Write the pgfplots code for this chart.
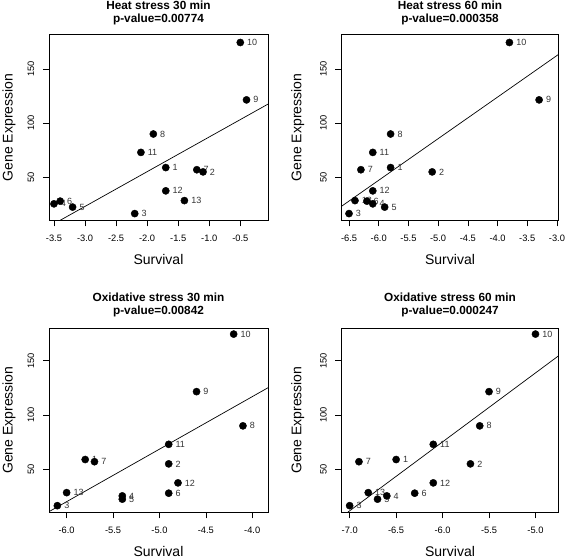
\documentclass[border=0pt]{standalone}
\usepackage{pgfplots}
\pgfplotsset{compat=1.18}
\usepackage{pgfplotstable}
\usepackage{fontspec}
\setmainfont{Liberation Sans}

\pgfplotstableread{
lab y     h30  h60  o30  o60
1   59    -1.7 -5.8 -5.8 -6.5
2   55    -1.1 -5.1 -4.9 -5.7
3   16.5  -2.2 -6.5 -6.1 -7.0
4   25.5  -3.5 -6.1 -5.4 -6.6
5   22.5  -3.2 -5.9 -5.4 -6.7
6   28    -3.4 -6.2 -4.9 -6.3
7   57    -1.2 -6.3 -5.7 -6.9
8   90    -1.9 -5.8 -4.1 -5.6
9   121.5 -0.4 -3.3 -4.6 -5.5
10  174.5 -0.5 -3.8 -4.2 -5.0
11  73    -2.1 -6.1 -4.9 -6.1
12  37.5  -1.7 -6.1 -4.8 -6.1
13  28.5  -1.4 -6.4 -6.0 -6.8
}\data

\pgfplotsset{
  panel/.style={
    scale only axis, anchor=south west,
    axis line style={line width=0.8pt},
    tick align=outside, major tick length=6pt,
    tick style={black, line width=0.6pt},
    xtick pos=bottom, ytick pos=left,
    ytick={50,100,150},
    yticklabels={50,100,150},
    yticklabel style={rotate=90, anchor=south, inner sep=0pt, font=\fontsize{9.3}{10}\selectfont},
    xticklabel style={anchor=north, inner sep=0pt, font=\fontsize{9.3}{10}\selectfont},
    yticklabel shift=8.5pt,
    xticklabel shift=8.5pt,
    xlabel={Survival}, ylabel={Gene Expression},
    label style={font=\fontsize{14}{16}\selectfont},
    xlabel style={at={(axis description cs:0.5,-0.212)}, anchor=center},
    title style={font=\fontsize{11.8}{13.6}\selectfont\bfseries, align=center, anchor=center},
    lbl/.style={draw=none, mark=none, nodes near coords, point meta=explicit symbolic,
      every node near coord/.style={anchor=west, inner sep=0pt, xshift=6.7pt, text=black!80, font=\fontsize{9}{10}\selectfont}},
    pts/.style={only marks, mark=*, mark size=3.6pt, black, mark options={draw=black, fill=black}},
    fit/.style={black, line width=0.7pt, mark=none},
  }
}

\begin{document}
\begin{tikzpicture}[x=1pt,y=1pt]
\useasboundingbox (0,0) rectangle (567,558);

\begin{axis}[panel, at={(49pt,337.7pt)}, width=219pt, height=185.6pt,
  xmin=-3.58, xmax=-0.054, ymin=10.3, ymax=181.7,
  xtick={-3.5,-3,-2.5,-2,-1.5,-1,-0.5},
  xticklabels={-3.5,-3.0,-2.5,-2.0,-1.5,-1.0,-0.5},
  ylabel style={at={(axis description cs:-0.183,0.5)}, anchor=center},
  title style={at={(axis description cs:0.5,1.084)}},
  title={Heat stress 30 min\\p-value=0.00774}]
\addplot[lbl] table[x=h30, y=y, meta=lab] {\data};
\addplot[pts] table[x=h30, y=y] {\data};
\addplot[fit] coordinates {(-3.40,10.3) (-0.054,117.6)};
\end{axis}

\begin{axis}[panel, at={(341.3pt,337.7pt)}, width=217.4pt, height=185.6pt,
  xmin=-6.63, xmax=-2.97, ymin=10.3, ymax=181.7,
  xtick={-6.5,-6,-5.5,-5,-4.5,-4,-3.5,-3},
  xticklabels={-6.5,-6.0,-5.5,-5.0,-4.5,-4.0,-3.5,-3.0},
  ylabel style={at={(axis description cs:-0.2,0.5)}, anchor=center},
  title style={at={(axis description cs:0.5,1.084)}},
  title={Heat stress 60 min\\p-value=0.000358}]
\addplot[lbl] table[x=h60, y=y, meta=lab] {\data};
\addplot[pts] table[x=h60, y=y] {\data};
\addplot[fit] coordinates {(-6.63,23.1) (-2.97,163.6)};
\end{axis}

\begin{axis}[panel, at={(49pt,45.7pt)}, width=219pt, height=184.3pt,
  xmin=-6.19, xmax=-3.83, ymin=10.4, ymax=180.1,
  xtick={-6,-5.5,-5,-4.5,-4},
  xticklabels={-6.0,-5.5,-5.0,-4.5,-4.0},
  ylabel style={at={(axis description cs:-0.183,0.5)}, anchor=center},
  title style={at={(axis description cs:0.5,1.093)}},
  title={Oxidative stress 30 min\\p-value=0.00842}]
\addplot[lbl] table[x=o30, y=y, meta=lab] {\data};
\addplot[pts] table[x=o30, y=y] {\data};
\addplot[fit] coordinates {(-6.19,11.0) (-3.83,125.1)};
\end{axis}

\begin{axis}[panel, at={(341.3pt,45.7pt)}, width=217.4pt, height=184.3pt,
  xmin=-7.09, xmax=-4.75, ymin=10.4, ymax=180.1,
  xtick={-7,-6.5,-6,-5.5,-5},
  xticklabels={-7.0,-6.5,-6.0,-5.5,-5.0},
  ylabel style={at={(axis description cs:-0.2,0.5)}, anchor=center},
  title style={at={(axis description cs:0.5,1.093)}},
  title={Oxidative stress 60 min\\p-value=0.000247}]
\addplot[lbl] table[x=o60, y=y, meta=lab] {\data};
\addplot[pts] table[x=o60, y=y] {\data};
\addplot[fit] coordinates {(-7.02,10.5) (-4.75,154.6)};
\end{axis}
\end{tikzpicture}
\end{document}
